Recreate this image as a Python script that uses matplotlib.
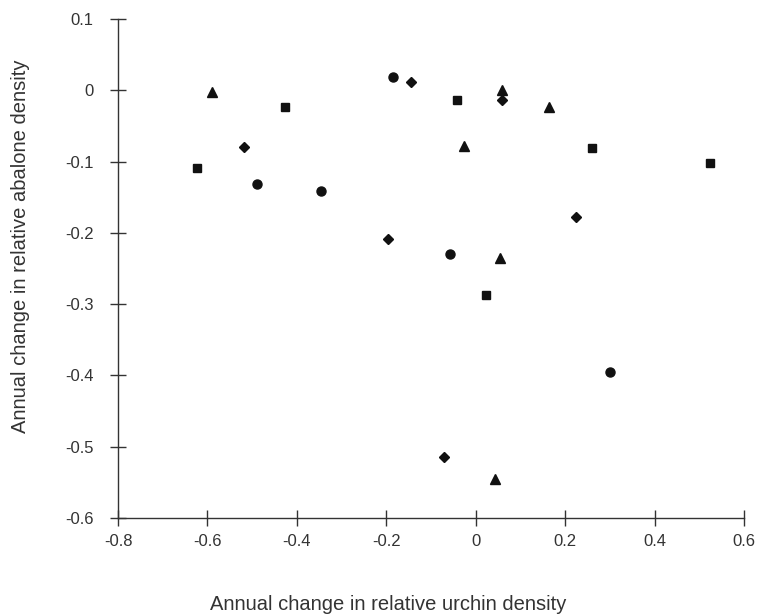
import matplotlib
matplotlib.use('Agg')
import matplotlib.pyplot as plt

plt.rcParams['font.family'] = ['Liberation Sans', 'DejaVu Sans']

# Annual change in relative urchin density (x) vs abalone density (y), per site
square_x = [-0.624, -0.427, -0.043, 0.260, 0.523, 0.023]
square_y = [-0.109, -0.024, -0.013, -0.081, -0.102, -0.287]

circle_x = [-0.489, -0.347, -0.185, -0.057, 0.299]
circle_y = [-0.132, -0.142, 0.018, -0.230, -0.395]

diamond_x = [-0.518, -0.145, 0.058, 0.223, -0.197, -0.072]
diamond_y = [-0.079, 0.011, -0.013, -0.178, -0.209, -0.515]

triangle_x = [-0.590, 0.059, 0.164, -0.027, 0.055, 0.043]
triangle_y = [-0.003, 0.001, -0.024, -0.078, -0.236, -0.545]

x_ticks = [-0.8, -0.6, -0.4, -0.2, 0, 0.2, 0.4, 0.6]
y_ticks = [0.1, 0, -0.1, -0.2, -0.3, -0.4, -0.5, -0.6]

fig = plt.figure(figsize=(7.6, 6.15), dpi=100)
ax = fig.add_axes([0.1553, 0.1577, 0.8240, 0.8115])

ax.plot(square_x, square_y, 's', color='#111111', ms=6.3, linestyle='none')
ax.plot(circle_x, circle_y, 'o', color='#111111', ms=6.5, linestyle='none')
ax.plot(diamond_x, diamond_y, 'D', color='#111111', ms=5.2, linestyle='none')
ax.plot(triangle_x, triangle_y, '^', color='#111111', ms=7.8, linestyle='none')

ax.set_xlim(-0.8, 0.6)
ax.set_ylim(-0.6, 0.1)
ax.set_xticks(x_ticks)
ax.set_yticks(y_ticks)
ax.set_xticklabels(['-0.8', '-0.6', '-0.4', '-0.2', '0', '0.2', '0.4', '0.6'])
ax.set_yticklabels(['0.1', '0', '-0.1', '-0.2', '-0.3', '-0.4', '-0.5', '-0.6'])

for side in ['top', 'right']:
    ax.spines[side].set_visible(False)
for side in ['left', 'bottom']:
    ax.spines[side].set_linewidth(1.0)
    ax.spines[side].set_color('#333333')

ax.tick_params(axis='both', direction='inout', length=11.5, width=1.0,
               color='#333333', labelsize=12, labelcolor='#333333')
ax.tick_params(axis='x', pad=5.5)
ax.tick_params(axis='y', pad=12)

ax.set_xlabel('Annual change in relative urchin density', fontsize=14.5,
              color='#333333')
ax.set_ylabel('Annual change in relative abalone density', fontsize=14.5,
              color='#333333')
ax.xaxis.set_label_coords(0.431, -0.155)
ax.yaxis.set_label_coords(-0.14, 0.545)

fig.savefig('out.png', dpi=100)
